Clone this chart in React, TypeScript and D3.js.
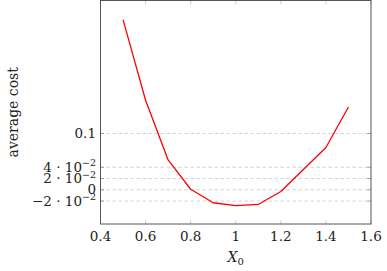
import * as d3 from 'd3';

// x positions and average cost
const x0Values = [0.5, 0.6, 0.7, 0.8, 0.9, 1.0, 1.1, 1.2, 1.3, 1.4, 1.5];
const avgCost = [0.302, 0.159, 0.053, 0.001, -0.023, -0.028, -0.026, -0.003, 0.036, 0.075, 0.147];

const xTicks = [0.4, 0.6, 0.8, 1.0, 1.2, 1.4, 1.6];
const xTickLabels = ['0.4', '0.6', '0.8', '1', '1.2', '1.4', '1.6'];
const yTicks = [-0.02, 0, 0.02, 0.04, 0.1];
const yTickMant = ['\u22122', '', '2', '4', ''];
const yTickPlain = ['', '0', '', '', '0.1'];

const W = 387;
const H = 271;
const left = 100.5;
const right = 371;
const top = 0.5;
const bottom = 224;
const font = "'DejaVu Serif', serif";

export default function App() {
  const x = d3.scaleLinear().domain([0.4, 1.6]).range([left, right]);
  const y = d3.scaleLinear().domain([-0.0607, 0.336]).range([bottom, top]);

  const line = d3.line<number>()
    .x((_, i) => x(x0Values[i]))
    .y(d => y(d));

  return (
    <svg width={W} height={H} style={{ position: 'absolute', left: 0, top: 0, fontFamily: font }}>
      {/* horizontal grid */}
      {yTicks.map(t => (
        <line key={'g' + t} x1={left} x2={right} y1={y(t)} y2={y(t)}
          stroke="#c8c8c8" strokeWidth={0.8} strokeDasharray="3.5,2.5" />
      ))}
      {/* y ticks on both sides */}
      {yTicks.map(t => (
        <g key={'yt' + t}>
          <line x1={left} x2={left + 3.5} y1={y(t)} y2={y(t)} stroke="#888" strokeWidth={0.8} />
          <line x1={right} x2={right - 3.5} y1={y(t)} y2={y(t)} stroke="#888" strokeWidth={0.8} />
        </g>
      ))}
      {/* x ticks top and bottom */}
      {xTicks.map(t => (
        <g key={'xt' + t}>
          <line x1={x(t)} x2={x(t)} y1={bottom} y2={bottom - 3.5} stroke="#bbb" strokeWidth={0.8} />
          <line x1={x(t)} x2={x(t)} y1={top} y2={top + 3.5} stroke="#bbb" strokeWidth={0.8} />
        </g>
      ))}
      <path d={line(avgCost) ?? ''} fill="none" stroke="#ff0000" strokeWidth={1.3} strokeLinejoin="round" />
      <rect x={left} y={top} width={right - left} height={bottom - top} fill="none" stroke="#555" strokeWidth={1} />
      {/* x tick labels */}
      {xTicks.map((t, i) => (
        <text key={'xl' + t} x={x(t)} y={bottom + 16.5} textAnchor="middle" fontSize={13.5} fill="#222">
          {xTickLabels[i]}
        </text>
      ))}
      {/* y tick labels */}
      {yTicks.map((t, i) => (
        <text key={'yl' + t} x={96} y={y(t) + 4.5} textAnchor="end" fontSize={13.5} fill="#222">
          {yTickPlain[i] !== '' ? yTickPlain[i] : (
            <>
              <tspan>{yTickMant[i]} {'\u00b7'} 10</tspan>
              <tspan dy={-5.5} fontSize={9.5}>{'\u2212'}2</tspan>
            </>
          )}
        </text>
      ))}
      <text x={x(1.0)} y={262} textAnchor="middle" fontSize={14} fill="#222" fontStyle="italic">
        X<tspan fontSize={10} fontStyle="normal" dy={3}>0</tspan>
      </text>
      <text transform={`translate(18,${(top + bottom) / 2}) rotate(-90)`} textAnchor="middle" fontSize={14} fill="#222">
        average cost
      </text>
    </svg>
  );
}
